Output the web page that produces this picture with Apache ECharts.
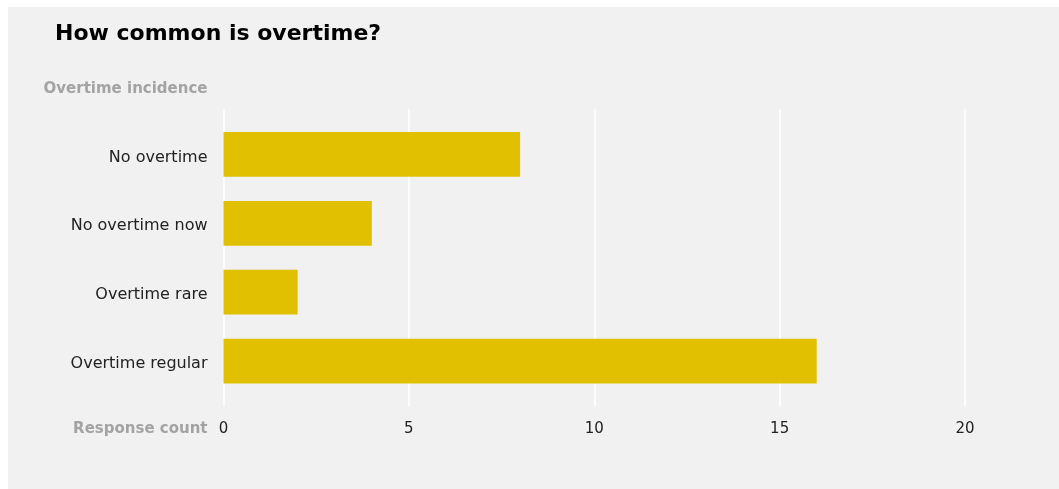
<!DOCTYPE html>
<html>
<head>
<meta charset="utf-8">
<script src="https://cdn.jsdelivr.net/npm/echarts@6/dist/echarts.min.js"></script>
<style>
  html, body { margin: 0; padding: 0; background: #ffffff; }
  #chart { position: absolute; left: 8px; top: 7px; width: 1051px; height: 482px; background: #f1f1f1; }
</style>
</head>
<body>
<div id="chart"></div>
<script>
// Survey answers: how often overtime happens
const categories = ['No overtime', 'No overtime now', 'Overtime rare', 'Overtime regular'];
const responseCounts = [8, 4, 2, 16];
const xTicks = [0, 5, 10, 15, 20];

const FONT = '"DejaVu Sans", Verdana, sans-serif';
const xMin = xTicks[0];
const xMax = xTicks[xTicks.length - 1];
const xStep = xTicks[1] - xTicks[0];

const chart = echarts.init(document.getElementById('chart'), null, { renderer: 'canvas' });

chart.setOption({
  backgroundColor: '#f1f1f1',
  animation: false,
  title: {
    text: 'How common is overtime?',
    left: 42,
    top: 11,
    textStyle: { fontFamily: FONT, fontSize: 22, fontWeight: 'bold', color: '#000000' }
  },
  grid: [
    // taller grid: carries the x ticks and vertical grid lines
    { left: 215.5, right: 94, top: 102, bottom: 82.5 },
    // inner grid: holds the bars
    { left: 215.5, right: 94, top: 113, bottom: 93.5 }
  ],
  xAxis: [
    {
      gridIndex: 0,
      type: 'value',
      min: xMin,
      max: xMax,
      interval: xStep,
      name: 'Response count',
      nameLocation: 'start',
      nameGap: 16,
      nameTextStyle: {
        fontFamily: FONT, fontSize: 15, fontWeight: 'bold', color: '#a3a3a3',
        verticalAlign: 'top', padding: [15, 0, 0, 0]
      },
      axisLine: { show: false },
      axisTick: { show: false },
      axisLabel: { fontFamily: FONT, fontSize: 15, color: '#222222', margin: 15 },
      splitLine: { show: true, lineStyle: { color: '#ffffff', width: 1.5 } }
    },
    {
      gridIndex: 1,
      type: 'value',
      min: xMin,
      max: xMax,
      interval: xStep,
      show: false,
      splitLine: { show: false }
    }
  ],
  yAxis: [
    {
      gridIndex: 0,
      type: 'category',
      data: categories,
      show: false
    },
    {
      gridIndex: 1,
      type: 'category',
      data: categories,
      inverse: true,
      name: 'Overtime incidence',
      nameLocation: 'start',
      nameGap: 23,
      nameTextStyle: {
        fontFamily: FONT, fontSize: 15, fontWeight: 'bold', color: '#a3a3a3',
        align: 'right', padding: [0, 16, 0, 0]
      },
      axisLine: { show: false },
      axisTick: { show: false },
      axisLabel: {
        margin: 16,
        formatter: (v) => '{c|' + v + '}',
        rich: {
          c: { fontFamily: FONT, fontSize: 16, color: '#222222', padding: [6, 0, 0, 0] }
        }
      },
      splitLine: { show: false }
    }
  ],
  series: [
    {
      type: 'bar',
      xAxisIndex: 1,
      yAxisIndex: 1,
      data: responseCounts,
      barCategoryGap: '35%',
      itemStyle: { color: '#e0c000' }
    }
  ]
});
</script>
</body>
</html>
